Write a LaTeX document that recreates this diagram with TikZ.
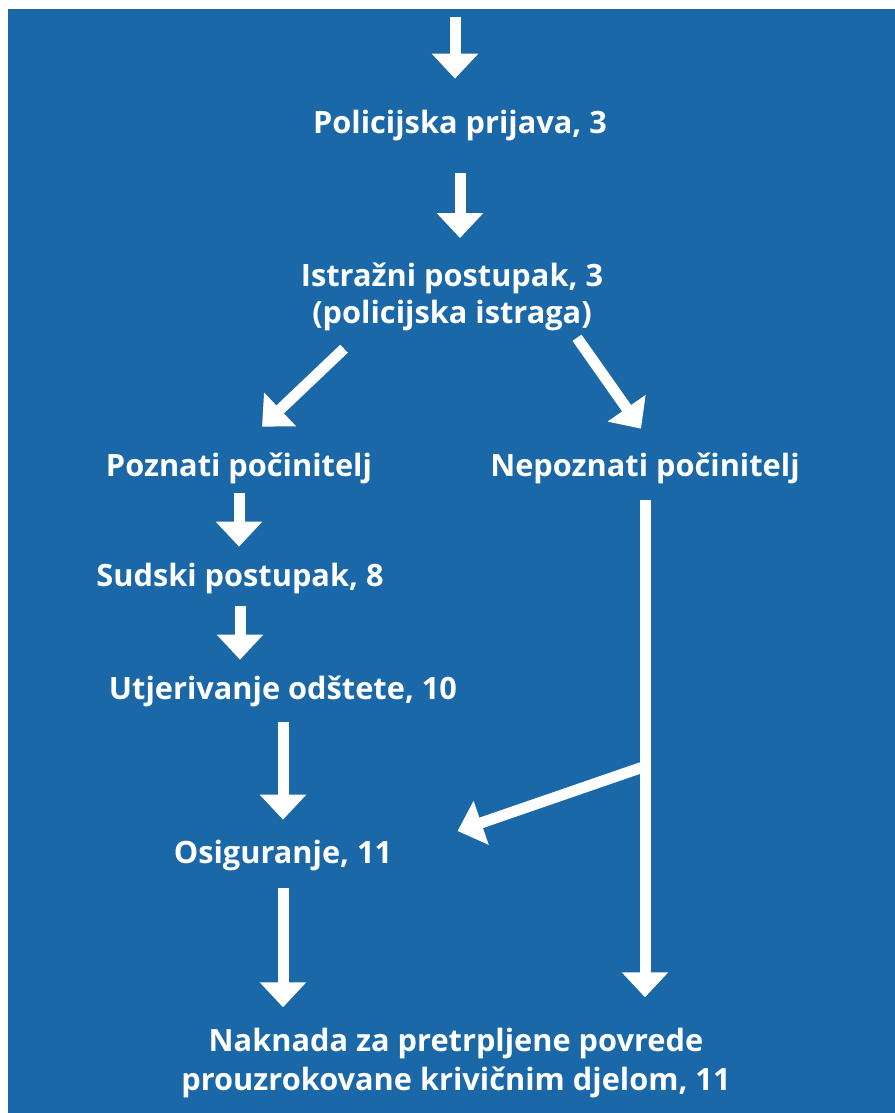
\documentclass[tikz,border=0pt]{standalone}
\usepackage{fontspec}
\setmainfont{Open Sans}
\usepackage{xcolor}
\usetikzlibrary{arrows.meta, calc, positioning}
\definecolor{shemablue}{RGB}{26,104,167}

\begin{document}
\begin{tikzpicture}[x=0.02cm, y=-0.02cm, line join=miter,
    korak/.style={text=white, inner sep=0pt, align=center, anchor=base,
        font=\bfseries\fontsize{17.5}{20.5}\selectfont},
    jedan/.style={korak, text height=0.44cm, text depth=0.12cm},
    strel/.style={draw=white, line width=0.22cm, -{Triangle[width=0.9cm, length=0.5cm]}}]

    \useasboundingbox (0,0) rectangle (895,1113);
    % Plava podloga
    \fill[shemablue] (8,9) rectangle (895,1113);

    % Koraci postupka
    \node[jedan] (prijava) at (460,133) {Policijska prijava, 3};
    \node[korak] (istraga) at (452,323) {Istražni postupak, 3\\(policijska istraga)};
    \node[jedan] (poznati) at (239,476) {Poznati počinitelj};
    \node[jedan] (nepoznati) at (645,476) {Nepoznati počinitelj};
    \node[jedan] (sudski) at (240,586) {Sudski postupak, 8};
    \node[jedan] (utjerivanje) at (283,699) {Utjerivanje odštete, 10};
    \node[jedan] (osiguranje) at (283,863) {Osiguranje, 11};
    \node[korak, font=\bfseries\fontsize{17.5}{22.2}\selectfont] (naknada) at (456,1090)
        {Naknada za pretrpljene povrede\\prouzrokovane krivičnim djelom, 11};

    % Strelice
    \coordinate (vrh) at (455,17);
    \draw[strel, shorten >=0.64cm] (vrh) -- (vrh |- prijava.north);
    \draw[strel, shorten <=0.68cm, shorten >=0.5cm] (prijava.south) -- (prijava.south |- istraga.north);
    \draw[strel] ($(istraga.south)+(-108,18)$) -- ($(poznati.north)+(23,-27)$);
    \draw[strel] ($(istraga.south)+(125,7)$) -- ($(nepoznati.north)+(-4,-25)$);
    \draw[strel, shorten <=0.22cm, shorten >=0.34cm] (poznati.south) -- (poznati.south |- sudski.north);
    \draw[strel, shorten <=0.28cm, shorten >=0.34cm] (sudski.south) -- (sudski.south |- utjerivanje.north);
    \draw[strel, shorten <=0.34cm, shorten >=0.42cm] (utjerivanje.south) -- (osiguranje.north);
    \draw[strel, shorten <=0.36cm, shorten >=0.6cm] (nepoznati.south) -- (nepoznati.south |- naknada.north);
    \path (nepoznati.south) ++(0,284) coordinate (racva);
    \draw[strel] (racva) -- ($(osiguranje.east)+(65,-24)$);
    \draw[strel, shorten <=0.38cm, shorten >=0.4cm] (osiguranje.south) -- (osiguranje.south |- naknada.north);
\end{tikzpicture}
\end{document}
